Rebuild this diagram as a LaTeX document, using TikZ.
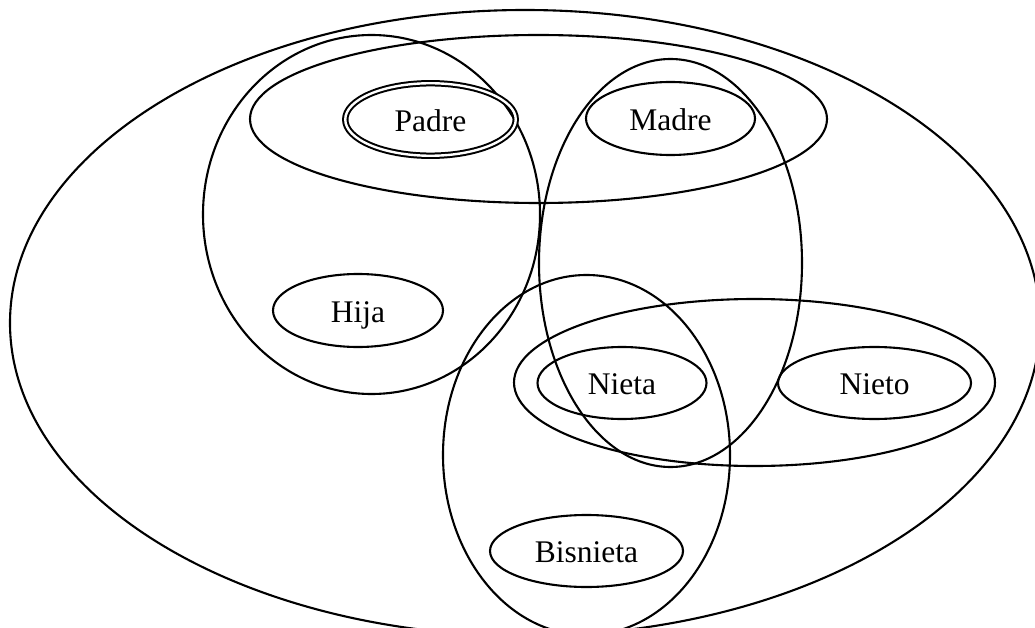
\documentclass[tikz,border=0pt]{standalone}
\usepackage{fontspec}
\setmainfont{Liberation Serif}
\usetikzlibrary{shapes.geometric}
\begin{document}
\begin{tikzpicture}[x=1pt,y=-1pt,
  grp/.style={ellipse, draw=black, line width=2.1pt, inner sep=0pt},
  person/.style={ellipse, draw=black, line width=2.1pt, inner sep=0pt,
    font=\fontsize{31.5}{36}\selectfont, text height=23.5pt, text depth=0pt},
  founder/.style={person, double, double distance=2.4pt, line width=2pt}
]
\useasboundingbox (0,0) rectangle (1035,628);
\clip (0,0) rectangle (1035,628);
% clusters
\node[grp, minimum width=1030pt, minimum height=626pt] (todos) at (525,323) {};
\node[grp, minimum width=577pt, minimum height=168pt] (padres) at (538.5,119) {};
\node[grp, minimum width=337pt, minimum height=359pt] (ramaPadre) at (371.5,214.5) {};
\node[grp, minimum width=263pt, minimum height=408pt] (ramaMadre) at (670.5,263) {};
\node[grp, minimum width=287pt, minimum height=360pt] (ramaNieta) at (586.5,455) {};
\node[grp, minimum width=481pt, minimum height=167pt] (nietos) at (754.5,382.5) {};
% persons
\node[founder, minimum width=170.5pt, minimum height=72.5pt] (padre) at (430.5,119.5) {Padre};
\node[person, minimum width=169pt, minimum height=73pt] (madre) at (670.5,118.5) {Madre};
\node[person, minimum width=170pt, minimum height=73pt] (hija) at (358,310.5) {Hija};
\node[person, minimum width=169pt, minimum height=72pt] (nieta) at (622,383) {Nieta};
\node[person, minimum width=193pt, minimum height=72pt] (nieto) at (874.5,383) {Nieto};
\node[person, minimum width=193pt, minimum height=72pt] (bisnieta) at (586.5,551) {Bisnieta};
\end{tikzpicture}
\end{document}
